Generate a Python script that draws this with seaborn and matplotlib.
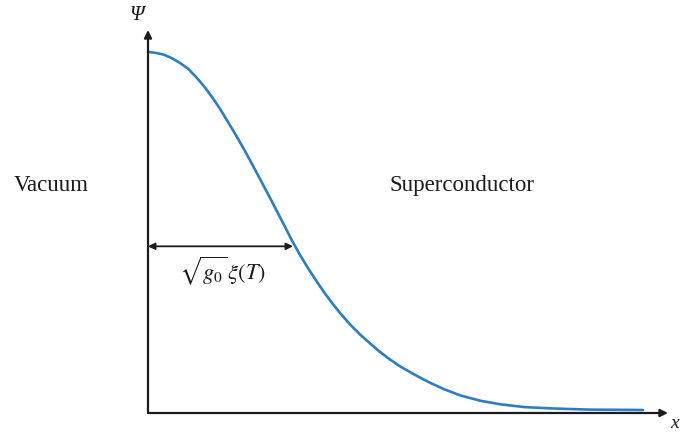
import matplotlib
matplotlib.use("Agg")
import matplotlib.pyplot as plt
import seaborn as sns
import pandas as pd

# Order parameter profile near the vacuum / superconductor boundary
x_pos = [0.00, 0.08, 0.16, 0.24, 0.32, 0.40, 0.48, 0.56, 0.64, 0.72, 0.80,
         0.88, 0.96, 1.04, 1.12, 1.20, 1.28, 1.36, 1.44, 1.52, 1.60, 1.68,
         1.76, 1.84, 1.92, 2.02, 2.12, 2.22, 2.32, 2.42, 2.52, 2.67, 2.82,
         2.97, 3.12, 3.32, 3.52, 3.77, 4.07, 4.42, 4.95]
psi = [1.000, 0.997, 0.992, 0.982, 0.969, 0.953, 0.930, 0.904, 0.874, 0.841,
       0.804, 0.767, 0.728, 0.687, 0.645, 0.603, 0.560, 0.517, 0.473, 0.433,
       0.396, 0.362, 0.329, 0.299, 0.271, 0.239, 0.211, 0.186, 0.162, 0.141,
       0.122, 0.098, 0.076, 0.057, 0.041, 0.026, 0.016, 0.008, 0.004, 0.001,
       0.000]

# Coherence-length marker: width and the height where it meets the curve
xi_width = 1.45
xi_height = 0.457

region_labels = ["Vacuum", "Superconductor"]
xi_label = r"$\sqrt{g_0}\,\xi(T)$"
y_label = "\u03a8"
x_label = "x"

df = pd.DataFrame({"x": x_pos, "psi": psi})

sns.set_theme(style="white")
plt.rcParams["font.family"] = ["Liberation Serif", "DejaVu Serif"]
plt.rcParams["mathtext.fontset"] = "stix"

W, H = 681, 436
fig = plt.figure(figsize=(W / 100, H / 100), dpi=100)
fig.patch.set_facecolor("white")

x_min, x_max = 0.0, 5.2
y_min, y_max = -0.0084, 1.061
ax = fig.add_axes([148 / W, (H - 413) / H, 520 / W, 383 / H])
ax.set_xlim(x_min, x_max)
ax.set_ylim(y_min, y_max)
ax.axis("off")

sns.lineplot(data=df, x="x", y="psi", ax=ax, color="#2f7dc1",
             linewidth=1.9, clip_on=False, sort=False)
for line in ax.lines:
    line.set_solid_joinstyle("round")
    line.set_solid_capstyle("round")

axis_color = "#1c1c1c"
arrow_kw = dict(arrowstyle="-|>", color=axis_color, lw=1.6,
                mutation_scale=11, shrinkA=0, shrinkB=0)
# vertical axis
ax.annotate("", xy=(x_min, y_max), xytext=(x_min, y_min),
            arrowprops=arrow_kw, annotation_clip=False)
# horizontal axis
ax.annotate("", xy=(x_max, y_min), xytext=(x_min, y_min),
            arrowprops=arrow_kw, annotation_clip=False)

# double-headed width marker
ax.annotate("", xy=(xi_width, xi_height), xytext=(x_min, xi_height),
            arrowprops=dict(arrowstyle="<|-|>", color=axis_color, lw=1.3,
                            mutation_scale=10, shrinkA=0, shrinkB=0),
            annotation_clip=False)

text_color = "#1a1a1a"
fig.text(51 / W, 1 - 185 / H, region_labels[0], ha="center", va="center",
         fontsize=16.5, color=text_color)
fig.text(462 / W, 1 - 185 / H, region_labels[1], ha="center", va="center",
         fontsize=16.5, color=text_color)
fig.text(222 / W, 1 - 271 / H, xi_label, ha="center", va="center",
         fontsize=16, color=text_color)
fig.text(137 / W, 1 - 15 / H, y_label, ha="center", va="center",
         fontsize=15, style="italic", color=text_color)
fig.text(670 / W, 1 - 423 / H, x_label, ha="left", va="center",
         fontsize=14, style="italic", color=text_color)

fig.savefig("out.png", dpi=100, facecolor="white")
